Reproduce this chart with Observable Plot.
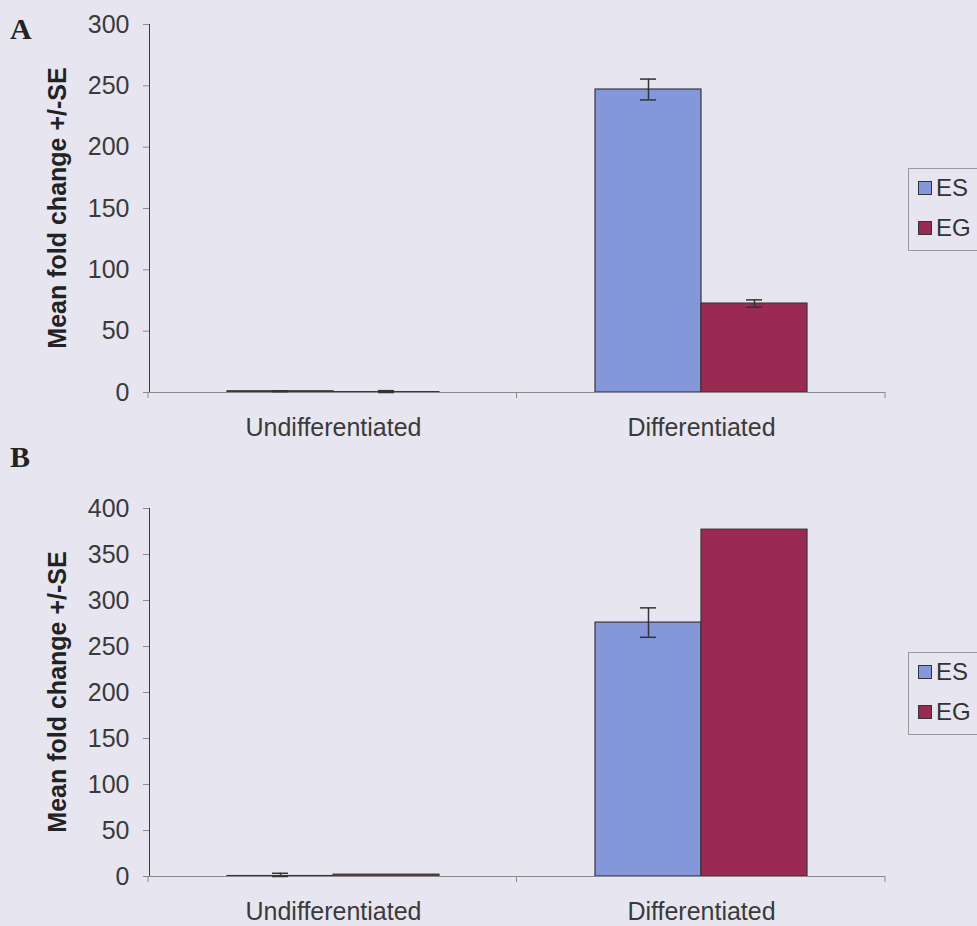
<!DOCTYPE html>
<html>
<head>
<meta charset="utf-8">
<script src="https://cdn.jsdelivr.net/npm/d3@7"></script>
<script src="https://cdn.jsdelivr.net/npm/@observablehq/plot@0.6"></script>
<style>
  html, body { margin: 0; padding: 0; background: #e7e6f0; }
  #root { position: relative; width: 977px; height: 926px; overflow: hidden; background: #e7e6f0; font-family: Arial, "Liberation Sans", sans-serif; }
  .panel { position: absolute; left: 0; }
  .plabel { position: absolute; left: 10px; font-family: "Times New Roman", "Liberation Serif", serif; font-weight: bold; font-size: 30px; color: #222; }
  .ytitle { position: absolute; font-weight: bold; font-size: 25px; color: #222; white-space: nowrap; transform: translate(-50%, -50%) rotate(-90deg); }
  .legend { position: absolute; left: 908px; width: 100px; border: 1px solid #9a9a9a; box-sizing: border-box; }
  .litem { position: absolute; left: 9px; display: flex; align-items: center; font-size: 24px; color: #333; }
  .sw { width: 14px; height: 14px; border: 1px solid #333; box-sizing: border-box; margin-right: 4px; }
</style>
</head>
<body>
<div id="root"></div>
<script>
const categories = ["Undifferentiated", "Differentiated"];
const series = ["ES", "EG"];
const colors = ["#8397da", "#9b2a53"];

// Panel A
const aES = [1, 247];
const aEG = [0.3, 72.5];
const aESse = [0.3, 8.5];
const aEGse = [1.2, 3];
const aTicks = [0, 50, 100, 150, 200, 250, 300];

// Panel B
const bES = [0.5, 276];
const bEG = [2, 377];
const bESse = [3, 16];
const bEGse = [0, 0];
const bTicks = [0, 50, 100, 150, 200, 250, 300, 350, 400];

const yTitle = "Mean fold change +/-SE";

function rowsFor(es, eg, esse, egse) {
  const rows = [];
  categories.forEach((c, i) => {
    rows.push({category: c, series: series[0], value: es[i], se: esse[i]});
    rows.push({category: c, series: series[1], value: eg[i], se: egse[i]});
  });
  return rows;
}

function makePanel(opts) {
  const {rows, ticks, top, height, marginTop, marginBottom, label, legendTop} = opts;
  const root = document.getElementById("root");
  const hasErr = d => d.se > 0;
  const lo = d => Math.max(0, d.value - d.se);
  const hi = d => d.value + d.se;
  const plot = Plot.plot({
    width: 977,
    height,
    marginLeft: 148,
    marginRight: 92,
    marginTop,
    marginBottom,
    style: {background: "transparent", fontFamily: 'Arial, "Liberation Sans", sans-serif', fontSize: "25px", color: "#3a3a3a"},
    facet: {data: rows, x: "category"},
    fx: {domain: categories, padding: 0, label: null, axis: "bottom", tickSize: 0, tickPadding: 26},
    x: {domain: series, paddingInner: 0, paddingOuter: 0.72, axis: null},
    y: {domain: [0, ticks[ticks.length - 1]], ticks, tickSize: 6, tickPadding: 14, line: true, label: null},
    color: {domain: series, range: colors},
    marks: [
      Plot.barY(rows, {x: "series", y: "value", fill: "series", stroke: "#363636", strokeWidth: 1.2}),
      Plot.ruleY([0], {stroke: "#8a8a8a"}),
      Plot.ruleX(rows, {filter: hasErr, x: "series", y1: lo, y2: hi, stroke: "#333", strokeWidth: 1.5}),
      Plot.tickY(rows, {filter: hasErr, x: "series", y: hi, stroke: "#333", strokeWidth: 1.5, insetLeft: 45, insetRight: 45}),
      Plot.tickY(rows, {filter: hasErr, x: "series", y: lo, stroke: "#333", strokeWidth: 1.5, insetLeft: 45, insetRight: 45})
    ]
  });
  const wrap = document.createElement("div");
  wrap.className = "panel";
  wrap.style.top = top + "px";
  wrap.appendChild(plot);
  root.appendChild(wrap);

  const svg = d3.select(plot.tagName === "svg" ? plot : plot.querySelector("svg"));
  svg.selectAll("[aria-label^='y-axis'] path, [aria-label^='y-axis'] line").attr("stroke", "#8a8a8a");
  svg.selectAll("[aria-label^='y-axis'] text").attr("fill", "#3a3a3a");

  // x-axis tick marks at category boundaries
  const fx = plot.scale("fx");
  const y = plot.scale("y");
  const y0 = y.range[0];
  const n = fx.domain.length;
  const step = (fx.range[1] - fx.range[0]) / n;
  d3.range(n + 1).forEach(i => {
    const xx = fx.range[0] + i * step;
    svg.append("line").attr("x1", xx).attr("x2", xx).attr("y1", y0).attr("y2", y0 + 6)
      .attr("stroke", "#8a8a8a");
  });

  const pl = document.createElement("div");
  pl.className = "plabel";
  pl.textContent = label;
  pl.style.top = (top + opts.labelDy) + "px";
  root.appendChild(pl);

  const yt = document.createElement("div");
  yt.className = "ytitle";
  yt.textContent = yTitle;
  yt.style.left = "57px";
  yt.style.top = (top + (y.range[0] + y.range[1]) / 2) + "px";
  root.appendChild(yt);

  const lg = document.createElement("div");
  lg.className = "legend";
  lg.style.top = legendTop + "px";
  lg.style.height = "83px";
  series.forEach((s, i) => {
    const it = document.createElement("div");
    it.className = "litem";
    it.style.top = (5 + i * 40) + "px";
    const sw = document.createElement("div");
    sw.className = "sw";
    sw.style.background = colors[i];
    it.appendChild(sw);
    const t = document.createElement("span");
    t.textContent = s;
    it.appendChild(t);
    lg.appendChild(it);
  });
  root.appendChild(lg);
}

makePanel({rows: rowsFor(aES, aEG, aESse, aEGse), ticks: aTicks, top: 0, height: 450, marginTop: 24, marginBottom: 58, label: "A", labelDy: 12, legendTop: 168});
makePanel({rows: rowsFor(bES, bEG, bESse, bEGse), ticks: bTicks, top: 450, height: 476, marginTop: 58, marginBottom: 50, label: "B", labelDy: -10, legendTop: 652});
</script>
</body>
</html>
